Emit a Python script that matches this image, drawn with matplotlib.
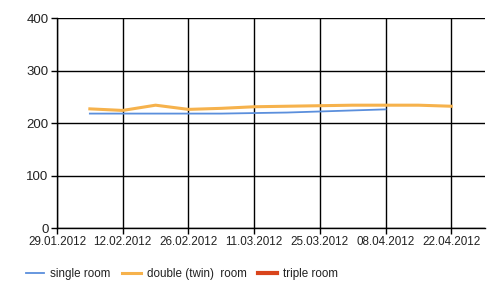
import matplotlib
matplotlib.use("Agg")
import matplotlib.pyplot as plt
import numpy as np
from datetime import datetime, timedelta

single_dates = ["05.02.2012", "12.02.2012", "19.02.2012", "26.02.2012", "04.03.2012",
                "11.03.2012", "18.03.2012", "25.03.2012", "01.04.2012", "08.04.2012"]
single_vals = [218, 218, 218, 218, 218, 219, 220, 222, 224, 226]

double_dates = ["05.02.2012", "12.02.2012", "19.02.2012", "26.02.2012", "04.03.2012",
                "11.03.2012", "18.03.2012", "25.03.2012", "01.04.2012", "08.04.2012",
                "15.04.2012", "22.04.2012"]
double_vals = [227, 224, 234, 226, 228, 231, 232, 233, 234, 234, 234, 232]

tick_labels = ["29.01.2012", "12.02.2012", "26.02.2012", "11.03.2012",
               "25.03.2012", "08.04.2012", "22.04.2012"]
y_ticks = [0, 100, 200, 300, 400]


def to_dt(s):
    return [datetime.strptime(d, "%d.%m.%Y") for d in s]


plt.rcParams['font.family'] = ['Liberation Sans', 'DejaVu Sans']

fig = plt.figure(figsize=(5, 2.96), dpi=100)
ax = fig.add_axes([0.114, 0.2297, 0.856, 0.7093])

ax.plot(to_dt(single_dates), single_vals, color="#5b8fdc", lw=1.3, label="single room")
ax.plot(to_dt(double_dates), double_vals, color="#f6b24c", lw=2.2, label="double (twin)  room")
ax.plot([], [], color="#d9441c", lw=3, label="triple room")

xt = to_dt(tick_labels)
ax.set_xticks(xt)
ax.set_xticklabels(tick_labels, fontsize=8.4, color="#222222")
ax.set_xlim(xt[0], xt[-1] + timedelta(days=7.2))
ax.set_ylim(0, 400)
ax.set_yticks(y_ticks)
ax.set_yticklabels([str(v) for v in y_ticks], fontsize=9.5, color="#222222")

ax.grid(True, color="black", lw=1)
ax.set_axisbelow(True)
for s in ["top", "right"]:
    ax.spines[s].set_visible(False)
ax.spines["left"].set_linewidth(1)
ax.spines["bottom"].set_linewidth(1)
ax.tick_params(axis="both", length=4, width=1, pad=2)

fig.legend(loc="center left", bbox_to_anchor=(0.03, 0.074), ncol=3, frameon=False,
           fontsize=8.4, handlelength=1.6, handletextpad=0.5, columnspacing=1.0,
           labelcolor="#222222")

fig.savefig("out.png", dpi=100)
